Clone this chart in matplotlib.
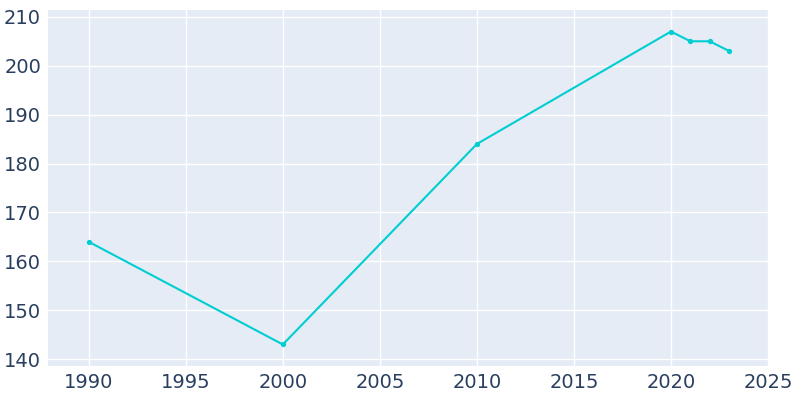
import matplotlib
matplotlib.use("Agg")
import matplotlib.pyplot as plt

years = [1990, 2000, 2010, 2020, 2021, 2022, 2023]
population = [164, 143, 184, 207, 205, 205, 203]
x_ticks = [1990, 1995, 2000, 2005, 2010, 2015, 2020, 2025]
y_ticks = [140, 150, 160, 170, 180, 190, 200, 210]

fig = plt.figure(figsize=(8, 4), dpi=100)
ax = fig.add_axes([0.06, 0.085, 0.90, 0.89])
ax.set_facecolor("#E5ECF6")
ax.plot(years, population, color="#00CED1", linewidth=1.5, marker="o", markersize=2.8)

ax.set_xlim(1987.9, 2025)
ax.set_ylim(138.6, 211.4)
ax.set_xticks(x_ticks)
ax.set_yticks(y_ticks)
ax.grid(True, color="white", linewidth=1)
ax.set_axisbelow(True)
for s in ax.spines.values():
    s.set_visible(False)
ax.tick_params(length=0, labelsize=14, labelcolor="#2a3f5f", pad=5)

fig.savefig("out.png")
